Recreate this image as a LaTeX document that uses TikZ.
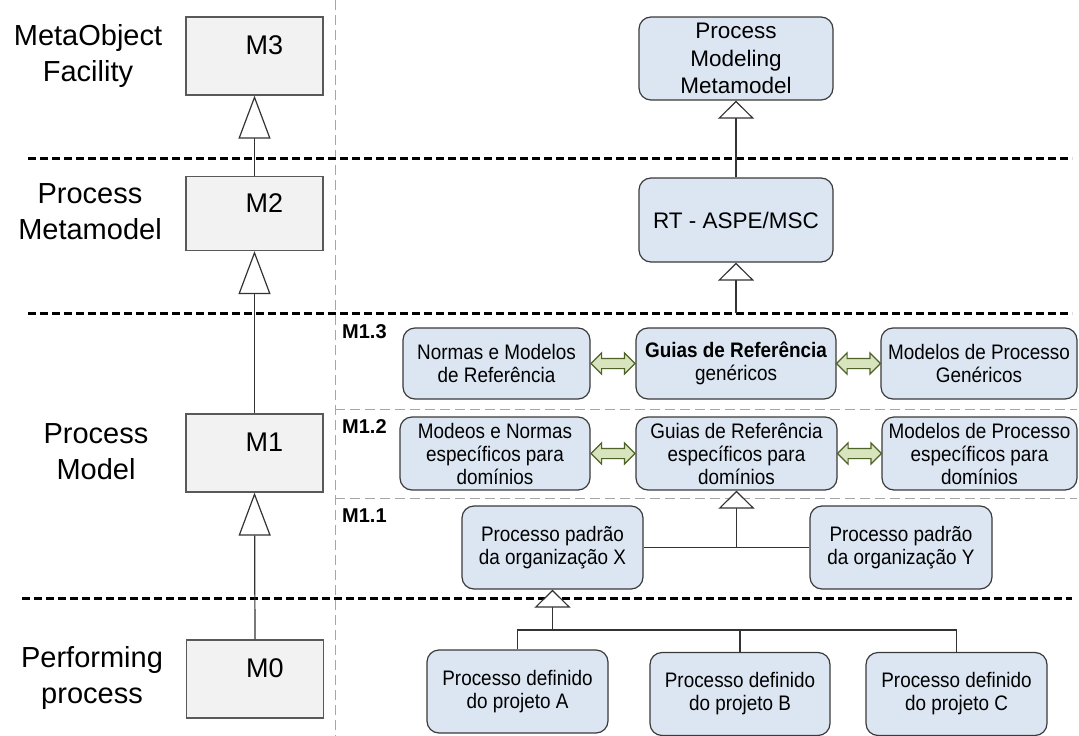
\documentclass[tikz,border=0pt]{standalone}
\usepackage{fontspec}
\setmainfont{Liberation Sans}
\newfontfamily\caixafonte[FakeStretch=0.9]{Liberation Sans}
\usetikzlibrary{arrows.meta,shapes.arrows,calc}

\definecolor{caixaazul}{HTML}{DCE6F2}
\definecolor{bordaescura}{HTML}{3A3A3A}
\definecolor{cinzaclaro}{HTML}{F2F2F2}
\definecolor{bordacinza}{HTML}{595959}
\definecolor{verdeclaro}{HTML}{D7E4BD}
\definecolor{verdeescuro}{HTML}{4F6228}
\definecolor{tracejado}{HTML}{A6A6A6}
\definecolor{linha}{HTML}{333333}

\tikzset{
  nivel/.style={draw=bordacinza, fill=cinzaclaro, line width=1.2pt, minimum width=137pt, minimum height=78pt, inner sep=0pt},
  rotulo/.style={font=\fontsize{29}{36}\selectfont, align=center, inner sep=0pt},
  mtexto/.style={font=\fontsize{27}{30}\selectfont, inner sep=0pt},
  processo/.style={draw=bordaescura, fill=caixaazul, rounded corners=12pt, line width=1.2pt, align=center, inner sep=0pt, font=\caixafonte\fontsize{21}{23}\selectfont},
  topo/.style={processo, minimum width=194pt, font=\fontsize{22.5}{27.5}\selectfont},
  subnivel/.style={font=\fontsize{20}{22}\selectfont\bfseries, anchor=base west, inner sep=0pt},
  heranca/.style={-{Triangle[width=32pt,length=43pt,fill=white]}, line width=1.2pt, draw=linha},
  herancap/.style={-{Triangle[width=36pt,length=18pt,fill=white]}, line width=1.2pt, draw=linha},
  ligacao/.style={line width=1.2pt, draw=linha},
  troca/.style={double arrow, draw=verdeescuro, fill=verdeclaro, line width=1.2pt, double arrow head extend=5.5pt, inner sep=4.5pt, minimum height=44pt},
  camada/.style={line width=3pt, dash pattern=on 8pt off 4pt},
  divisao/.style={draw=tracejado, line width=1pt, dash pattern=on 10pt off 5pt},
}

\begin{document}
\begin{tikzpicture}[x=1pt,y=-1pt]
  \fill[white, use as bounding box] (0,0) rectangle (1079,736);

  % camadas -----------------------------------------------------------------
  \draw[divisao] (335,0) -- (335,736); % separa as colunas
  \draw[divisao] (335,409) -- (1077,409);
  \draw[divisao] (335,498) -- (1077,498);
  \draw[camada] (28,158) -- (1072,158);
  \draw[camada] (28,313) -- (1072,313);
  \draw[camada] (22,598) -- (1072,598);

  % coluna da esquerda ------------------------------------------------------
  \node[rotulo] at (88,56.5) {MetaObject\\Facility};
  \node[rotulo] at (90,211.5) {Process\\Metamodel};
  \node[rotulo] at (96,451.5) {Process\\Model};
  \node[rotulo] at (92,678) {Performing\\process};

  \node[nivel] (m3) at (254.5,56) {};
  \node[nivel, minimum height=74pt] (m2) at (254.5,213.5) {};
  \node[nivel] (m1) at (254.5,453) {};
  \node[nivel] (m0) at (255,679) {};
  \node[mtexto] at ([xshift=10pt,yshift=11pt]m3.center) {M3};
  \node[mtexto] at ([xshift=10pt,yshift=10pt]m2.center) {M2};
  \node[mtexto] at ([xshift=10pt,yshift=11pt]m1.center) {M1};
  \node[mtexto] at ([xshift=10pt,yshift=11pt]m0.center) {M0};

  \draw[heranca] (m2.north) -- (m3.south);
  \draw[heranca] (m1.north) -- (m2.south);
  \draw[heranca] (m0.north) -- (m1.south);

  % metamodelos -------------------------------------------------------------
  \node[topo, minimum height=83pt] (pmm) at (736,58.5) {Process\\Modeling\\Metamodel};
  \node[topo, minimum height=84pt] (rt) at (736,220) {RT - ASPE/MSC};
  \coordinate (fimrt) at (736,313);
  \draw[herancap] (rt.north) -- (pmm.south);
  \draw[herancap] (fimrt) -- (rt.south);

  % M1.3 e M1.2 -------------------------------------------------------------
  \node[subnivel] at (342,338) {M1.3};
  \node[subnivel] at (342,433) {M1.2};
  \node[subnivel] at (342,522) {M1.1};

  \node[processo, minimum width=187pt, minimum height=71pt] (n1) at (496.5,363.5) {Normas e Modelos\\de Referência};
  \node[processo, minimum width=200pt, minimum height=71pt] (g1) at (736,363.5) {{\bfseries Guias de Referência}\\genéricos};
  \node[processo, minimum width=196pt, minimum height=71pt] (mg1) at (979,363.5) {Modelos de Processo\\Genéricos};
  \node[processo, minimum width=190pt, minimum height=73pt] (n2) at (495,453.5) {Modeos e Normas\\específicos para\\domínios};
  \node[processo, minimum width=201pt, minimum height=73pt] (g2) at (736.5,453.5) {Guias de Referência\\específicos para\\domínios};
  \node[processo, minimum width=195pt, minimum height=73pt] (mg2) at (979.5,453.5) {Modelos de Processo\\específicos para\\domínios};

  \node[troca] at ($(n1.east)!.5!(g1.west)$) {};
  \node[troca] at ($(g1.east)!.5!(mg1.west)$) {};
  \node[troca] at ($(n2.east)!.5!(g2.west)$) {};
  \node[troca] at ($(g2.east)!.5!(mg2.west)$) {};

  % M1.1 e M0 ---------------------------------------------------------------
  \node[processo, minimum width=181pt, minimum height=83pt] (px) at (552.5,547.5) {Processo padrão\\da organização X};
  \node[processo, minimum width=182pt, minimum height=83pt] (py) at (901,547.5) {Processo padrão\\da organização Y};
  \node[processo, minimum width=181pt, minimum height=83pt] (pa) at (517.5,691.5) {Processo definido\\do projeto A};
  \node[processo, minimum width=180pt, minimum height=83pt] (pb) at (740,694) {Processo definido\\do projeto B};
  \node[processo, minimum width=181pt, minimum height=83pt] (pc) at (956.5,694) {Processo definido\\do projeto C};

  \draw[ligacao] (px.east) -- (py.west);
  \draw[herancap] (g2.south |- px.east) -- (g2.south);
  \coordinate (barra) at (552.5,630);
  \draw[herancap] (barra) -- (px.south);
  \draw[ligacao] (pa.north) |- (barra) -| (pc.north);
  \draw[ligacao] (pb.north) -- (pb.north |- barra);
\end{tikzpicture}
\end{document}
